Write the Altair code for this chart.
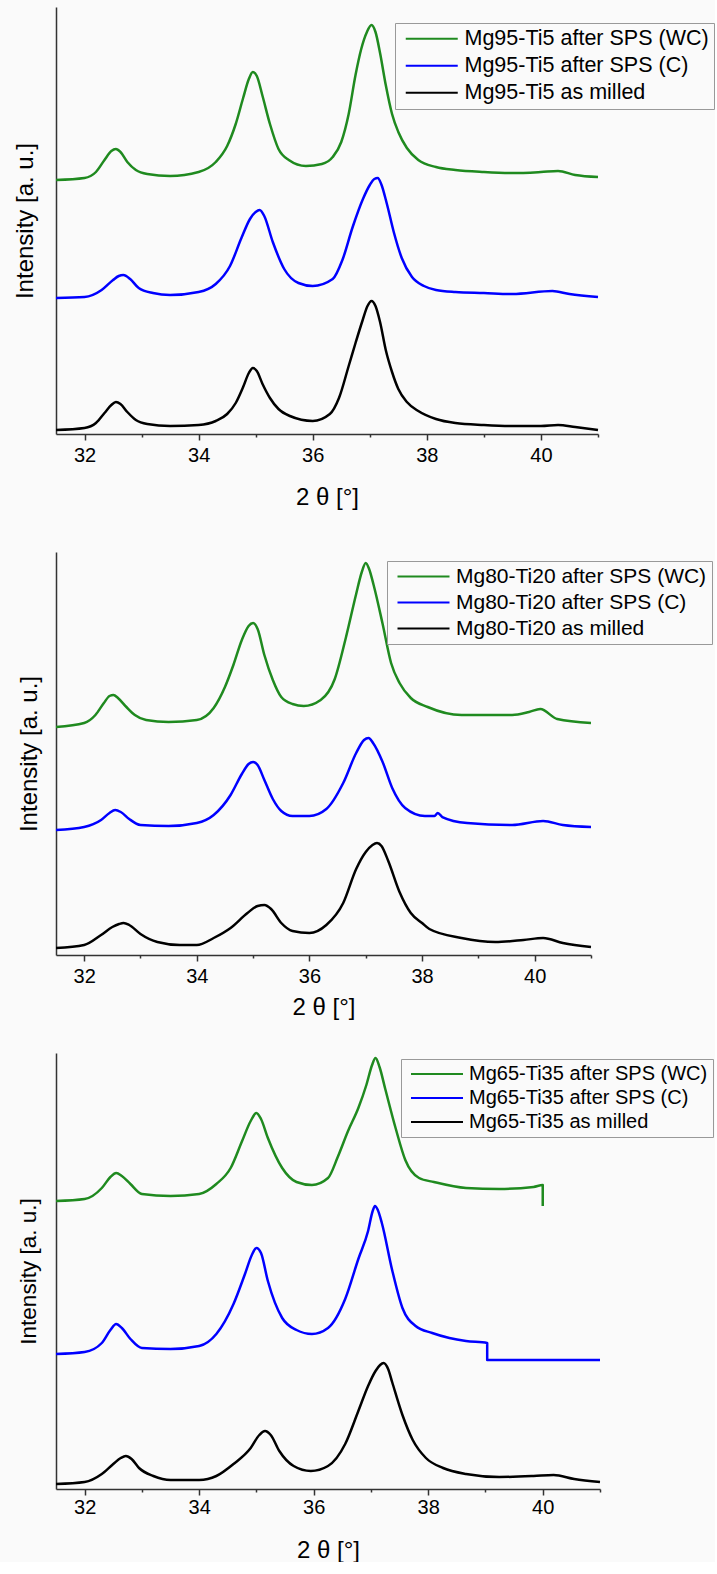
import altair as alt
import pandas as pd

FONT = "Liberation Sans"
GREEN = "#1f8a1f"
BLUE = "#0000ff"
BLACK = "#000000"
AXIS_COLOR = "#333333"
BG = "#fafafa"

# ---------------- Panel 1 : Mg95-Ti5 ----------------
p1_labels = ["Mg95-Ti5 after SPS (WC)", "Mg95-Ti5 after SPS (C)", "Mg95-Ti5 as milled"]
p1_wc_x = [31.5, 32.0, 32.2, 32.35, 32.47, 32.55, 32.63, 32.75, 32.9, 33.1, 33.5, 34.0, 34.3, 34.5, 34.65,
           34.78, 34.88, 34.95, 35.02, 35.12, 35.25, 35.4, 35.58, 35.88, 36.16, 36.35, 36.5, 36.63, 36.75,
           36.85, 36.95, 37.03, 37.1, 37.18, 37.28, 37.39, 37.5, 37.65, 37.85, 38.16, 38.5, 39.0, 39.5,
           40.0, 40.3, 40.6, 41.0]
p1_wc_y = [254, 256, 262, 274, 283, 285, 282, 272, 264, 260, 258, 262, 272, 288, 310,
           336, 355, 362, 358, 338, 310, 285, 274, 268, 270, 277, 292, 320, 359,
           385, 402, 409, 402, 381, 349, 320, 302, 286, 274, 267, 264, 262, 261,
           262, 263, 259, 257]
p1_c_x = [31.5, 32.0, 32.3, 32.5, 32.6, 32.68, 32.8, 32.95, 33.2, 33.5, 34.0, 34.3, 34.55, 34.75, 34.9,
          35.0, 35.07, 35.15, 35.3, 35.5, 35.75, 36.0, 36.35, 36.52, 36.7, 36.88, 37.0, 37.08, 37.14,
          37.2, 37.3, 37.42, 37.56, 37.74, 37.95, 38.16, 38.5, 39.0, 39.5, 40.2, 40.5, 41.0]
p1_c_y = [136, 137, 144, 154, 158, 159, 155, 146, 141, 139, 142, 150, 168, 196, 215,
          222, 224, 218, 192, 165, 151, 148, 155, 174, 207, 235, 249, 255, 256,
          250, 230, 202, 176, 157, 148, 144, 142, 141, 140, 143, 140, 137]
p1_m_x = [31.5, 32.0, 32.2, 32.35, 32.47, 32.55, 32.63, 32.75, 32.9, 33.1, 33.5, 34.0, 34.3, 34.5, 34.65,
          34.78, 34.88, 34.95, 35.02, 35.12, 35.25, 35.4, 35.6, 36.0, 36.3, 36.46, 36.63, 36.75, 36.87,
          36.96, 37.03, 37.1, 37.18, 37.28, 37.39, 37.5, 37.65, 37.85, 38.16, 38.5, 39.0, 39.5, 40.0,
          40.3, 40.6, 41.0]
p1_m_y = [4, 6, 11, 21, 29, 32, 30, 22, 14, 10, 8, 9, 13, 20, 31,
          47, 61, 66, 63, 50, 36, 25, 18, 13, 20, 36, 68, 91, 113,
          128, 133, 128, 112, 84, 62, 45, 32, 23, 15, 11, 9, 8, 8,
          9, 7, 4]

# ---------------- Panel 2 : Mg80-Ti20 ----------------
p2_labels = ["Mg80-Ti20 after SPS (WC)", "Mg80-Ti20 after SPS (C)", "Mg80-Ti20 as milled"]
p2_wc_x = [31.5, 32.0, 32.2, 32.35, 32.45, 32.52, 32.6, 32.75, 32.9, 33.1, 33.5, 34.0, 34.3, 34.5, 34.65,
           34.8, 34.92, 35.0, 35.08, 35.2, 35.35, 35.5, 35.7, 35.9, 36.2, 36.45, 36.65, 36.83, 36.93,
           37.0, 37.06, 37.14, 37.3, 37.45, 37.6, 37.8, 38.1, 38.7, 39.6, 39.9, 40.1, 40.4, 41.0]
p2_wc_y = [228, 232, 240, 252, 259, 260, 257, 248, 240, 235, 233, 235, 247, 268, 290,
           315, 329, 332, 326, 300, 275, 258, 251, 249, 255, 276, 318, 361, 383,
           392, 386, 370, 331, 292, 272, 257, 248, 240, 240, 243, 246, 236, 232]
p2_c_x = [31.5, 32.0, 32.3, 32.45, 32.55, 32.65, 32.8, 33.0, 33.5, 34.0, 34.3, 34.6, 34.8, 34.92, 35.0,
          35.08, 35.2, 35.35, 35.5, 35.7, 36.0, 36.3, 36.6, 36.83, 36.97, 37.05, 37.13, 37.3, 37.47,
          37.7, 38.05, 38.22, 38.28, 38.36, 38.8, 39.6, 40.15, 40.5, 41.0]
p2_c_y = [125, 128, 135, 142, 145, 143, 136, 130, 129, 132, 140, 160, 181, 191, 193,
          190, 175, 156, 144, 139, 139, 146, 172, 202, 215, 217, 212, 193, 167,
          147, 139, 139, 142, 138, 132, 130, 134, 130, 128]
p2_m_x = [31.5, 32.0, 32.3, 32.5, 32.62, 32.7, 32.8, 33.0, 33.3, 33.7, 34.0, 34.3, 34.6, 34.9, 35.08,
          35.2, 35.32, 35.5, 35.7, 36.0, 36.3, 36.6, 36.83, 37.0, 37.12, 37.2, 37.28, 37.4, 37.6,
          37.8, 38.0, 38.13, 38.7, 39.3, 39.8, 40.15, 40.5, 41.0]
p2_m_y = [7, 10, 20, 28, 31, 32, 30, 21, 13, 10, 10, 17, 27, 42, 49,
          50, 46, 32, 24, 22, 30, 52, 86, 103, 110, 112, 109, 94, 63,
          42, 32, 26, 17, 13, 15, 17, 12, 8]

# ---------------- Panel 3 : Mg65-Ti35 ----------------
p3_labels = ["Mg65-Ti35 after SPS (WC)", "Mg65-Ti35 after SPS (C)", "Mg65-Ti35 as milled"]
p3_wc_x = [31.5, 32.0, 32.3, 32.45, 32.55, 32.65, 32.8, 33.0, 33.5, 34.0, 34.3, 34.55, 34.75, 34.9, 35.0,
           35.08, 35.2, 35.45, 35.7, 35.97, 36.25, 36.42, 36.6, 36.78, 36.92, 37.02, 37.08, 37.15, 37.25,
           37.43, 37.6, 37.84, 38.1, 38.66, 39.24, 39.84, 40.0, 40.0]
p3_wc_y = [288, 290, 301, 312, 316, 313, 305, 295, 293, 295, 305, 321, 348, 368, 376,
           370, 351, 321, 307, 304, 311, 332, 358, 381, 404, 424, 431, 422, 400,
           361, 329, 311, 307, 301, 300, 302, 304, 283]
p3_c_x = [31.5, 32.0, 32.3, 32.45, 32.55, 32.65, 32.8, 33.0, 33.5, 34.0, 34.3, 34.6, 34.8, 34.92, 35.0,
          35.08, 35.2, 35.45, 35.7, 35.97, 36.25, 36.55, 36.78, 36.95, 37.03, 37.07, 37.12, 37.19, 37.37,
          37.55, 37.78, 38.07, 38.37, 38.66, 39.03, 39.03, 41.0]
p3_c_y = [135, 137, 146, 159, 165, 161, 150, 141, 140, 143, 155, 185, 215, 234, 241,
          236, 208, 171, 159, 155, 161, 190, 230, 258, 278, 283, 279, 266, 219,
          181, 163, 156, 151, 148, 146, 129, 129]
p3_m_x = [31.5, 32.0, 32.3, 32.5, 32.63, 32.72, 32.82, 32.95, 33.2, 33.5, 34.0, 34.3, 34.6, 34.9, 35.05,
          35.15, 35.25, 35.4, 35.65, 35.95, 36.25, 36.55, 36.78, 36.95, 37.08, 37.16, 37.22, 37.3, 37.37,
          37.55, 37.73, 37.96, 38.26, 38.66, 39.24, 39.84, 40.19, 40.55, 41.0]
p3_m_y = [5, 7, 15, 25, 31, 33, 30, 21, 13, 9, 9, 13, 25, 41, 54,
          58, 54, 38, 23, 18, 23, 45, 78, 103, 118, 124, 126, 120, 107,
          74, 49, 31, 21, 15, 12, 13, 14, 10, 7]

x_ticks = [32, 33, 34, 35, 36, 37, 38, 39, 40, 41]


def make_df(labels, curves):
    rows = []
    for lab, (xs, ys) in zip(labels, curves):
        for i, (xv, yv) in enumerate(zip(xs, ys)):
            rows.append({"theta": xv, "intensity": yv, "series": lab, "idx": i})
    return pd.DataFrame(rows)


def panel(labels, curves, width, height, ymax, leg_x, leg_y, leg_font,
          ytitle_pad, ytitle_size, label_pad, xtitle_pad):
    df = make_df(labels, curves)
    chart = alt.Chart(df).mark_line(strokeWidth=2.5, strokeJoin="round", interpolate="monotone").encode(
        x=alt.X("theta:Q",
                scale=alt.Scale(domain=[31.5, 41], nice=False, zero=False),
                axis=alt.Axis(
                    title="2 θ [°]", values=x_ticks, grid=False,
                    labelExpr="datum.value % 2 === 0 ? datum.label : ''",
                    labelOverlap=False, labelFlush=False,
                    tickSize={"condition": {"test": "datum.value % 2 === 0", "value": 6}, "value": 3},
                    tickColor=AXIS_COLOR, tickWidth=1.5,
                    domainColor=AXIS_COLOR, domainWidth=1.5,
                    labelFont=FONT, labelFontSize=20, labelColor="#000000",
                    labelPadding=label_pad,
                    titleFont=FONT, titleFontSize=24, titleFontWeight="normal",
                    titleColor="#000000", titlePadding=xtitle_pad,
                )),
        y=alt.Y("intensity:Q",
                scale=alt.Scale(domain=[0, ymax], nice=False, zero=False),
                axis=alt.Axis(
                    title="Intensity [a. u.]", ticks=False, labels=False, grid=False,
                    domainColor=AXIS_COLOR, domainWidth=1.5, titleFont=FONT,
                    titleFontSize=ytitle_size, titleFontWeight="normal", titleColor="#000000",
                    titlePadding=ytitle_pad,
                )),
        color=alt.Color("series:N",
                        scale=alt.Scale(domain=labels, range=[GREEN, BLUE, BLACK]),
                        legend=alt.Legend(
                            orient="none", legendX=leg_x, legendY=leg_y, title=None,
                            symbolType="M-1,0H9.4", symbolSize=100, symbolStrokeWidth=2,
                            labelFont=FONT, labelFontSize=leg_font, labelColor="#000000",
                            labelOffset=43, labelLimit=600, padding=5, rowPadding=4,
                            strokeColor="#999999", fillColor=BG, cornerRadius=0,
                        )),
        order=alt.Order("idx:Q"),
    ).properties(width=width, height=height)
    return chart


c1 = panel(p1_labels, [(p1_wc_x, p1_wc_y), (p1_c_x, p1_c_y), (p1_m_x, p1_m_y)],
           width=542, height=427, ymax=427, leg_x=339, leg_y=16, leg_font=21.5,
           ytitle_pad=19, ytitle_size=24, label_pad=5, xtitle_pad=20)
c2 = panel(p2_labels, [(p2_wc_x, p2_wc_y), (p2_c_x, p2_c_y), (p2_m_x, p2_m_y)],
           width=535, height=403, ymax=403, leg_x=331, leg_y=9, leg_font=21,
           ytitle_pad=15, ytitle_size=24, label_pad=5, xtitle_pad=9)
c3 = panel(p3_labels, [(p3_wc_x, p3_wc_y), (p3_c_x, p3_c_y), (p3_m_x, p3_m_y)],
           width=544, height=436, ymax=436, leg_x=345, leg_y=6, leg_font=20,
           ytitle_pad=16, ytitle_size=22.5, label_pad=2, xtitle_pad=21)

top = alt.vconcat(c1, c2, spacing=43).resolve_scale(color="independent", x="independent", y="independent")
chart = alt.vconcat(top, c3, spacing=34).resolve_scale(
    color="independent", x="independent", y="independent"
).properties(
    background=BG,
    padding={"left": 13, "top": 7, "right": 0, "bottom": 0},
).configure_view(stroke=None)

chart.save("out.html", embed_options={"renderer": "svg", "actions": False})
